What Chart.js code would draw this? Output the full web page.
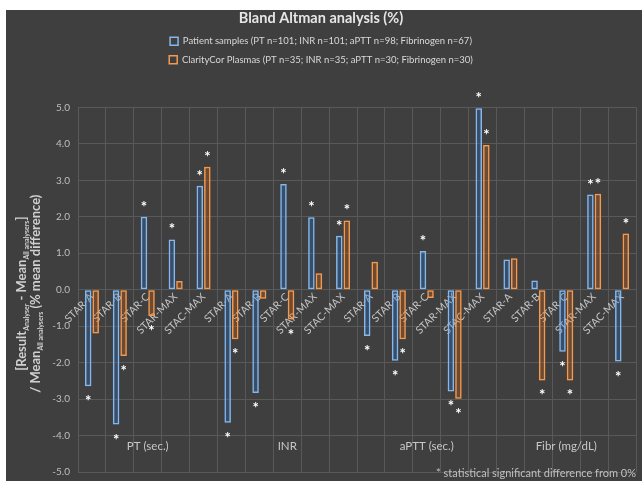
<!DOCTYPE html>
<html>
<head>
<meta charset="utf-8">
<script src="https://cdn.jsdelivr.net/npm/chart.js@4/dist/chart.umd.min.js"></script>
<style>
  html, body { margin: 0; padding: 0; background: #ffffff; }
  #wrap { position: absolute; left: 6px; top: 10px; width: 636px; height: 471px; background: #3f3f3f; }
</style>
</head>
<body>
<div id="wrap"><canvas id="baChart"></canvas></div>
<script>
// bland altman bars
const analysers = ['STAR-A', 'STAR-B', 'STAR-C', 'STAR-MAX', 'STAC-MAX'];
const groups = ['PT (sec.)', 'INR', 'aPTT (sec.)', 'Fibr (mg/dL)'];
const categories = groups.flatMap(() => analysers);
const yTicks = [-5, -4, -3, -2, -1, 0, 1, 2, 3, 4, 5];

const patientLabel = 'Patient samples (PT n=101; INR n=101; aPTT n=98; Fibrinogen n=67)';
const plasmaLabel = 'ClarityCor Plasmas (PT n=35; INR n=35; aPTT n=30; Fibrinogen n=30)';
const patientValues = [-2.65, -3.70, 2.00, 1.38, 2.85, -3.65, -2.83, 2.90, 1.99, 1.48, -1.27, -1.95, 1.06, -2.79, 4.98, 0.83, 0.25, -1.70, 2.61, -1.97];
const plasmaValues = [-1.20, -1.82, -0.72, 0.24, 3.37, -1.36, -0.25, -0.82, 0.45, 1.90, 0.77, -1.36, -0.23, -2.99, 3.97, 0.86, -2.49, -2.49, 2.63, 1.54];
// 1 = statistical significant difference from 0%
const patientSig = [1, 1, 1, 1, 1, 1, 1, 1, 1, 1, 1, 1, 1, 1, 1, 0, 0, 1, 1, 1];
const plasmaSig = [0, 1, 1, 0, 1, 1, 0, 1, 0, 1, 0, 1, 0, 1, 1, 0, 1, 1, 1, 1];

const FONT = 'Lato, "Open Sans", sans-serif';
const glow = ['#2a7ee0', '#f07012'];

const glowPlugin = {
    id: 'glow',
    beforeDatasetDraw(chart, args) {
        const ctx = chart.ctx;
        ctx.save();
        ctx.shadowColor = glow[args.index];
        ctx.shadowBlur = 7;
    },
    afterDatasetDraw(chart) {
        chart.ctx.restore();
    }
};

const extrasPlugin = {
    id: 'extras',
    afterDatasetsDraw(chart) {
        const ctx = chart.ctx;
        const x = chart.scales.x, area = chart.chartArea;
        ctx.save();
        // asterisks
        const sigs = [patientSig, plasmaSig];
        ctx.fillStyle = '#ffffff';
        ctx.font = 'bold 15px ' + FONT;
        ctx.textAlign = 'center';
        ctx.textBaseline = 'alphabetic';
        [0, 1].forEach(d => {
            chart.getDatasetMeta(d).data.forEach((bar, i) => {
                if (!sigs[d][i]) return;
                const up = bar.y < bar.base;
                const cy = up ? bar.y - 14 : bar.y + 11;
                ctx.fillText('*', bar.x, cy + 9);
            });
        });
        // group labels
        ctx.fillStyle = '#c8c8c8';
        ctx.font = '11.5px ' + FONT;
        ctx.textBaseline = 'middle';
        groups.forEach((g, k) => {
            const cx = (x.getPixelForValue(k * 5) + x.getPixelForValue(k * 5 + 4)) / 2;
            ctx.fillText(g, cx, area.bottom - 26);
        });
        // footnote
        ctx.textAlign = 'right';
        ctx.fillStyle = '#c0c0c0';
        ctx.font = '11px ' + FONT;
        ctx.fillText('* statistical significant difference from 0%', area.right, area.bottom + 1);
        ctx.restore();
    },
    afterDraw(chart) {
        // y axis title with subscripts
        const ctx = chart.ctx, area = chart.chartArea;
        const lines = [
            [['[Result', 13], ['Analyser', 7], [' - Mean', 13], ['All analysers', 7], [']', 13]],
            [['/ Mean', 13], ['All analysers', 7], [' (% mean difference)', 13]]
        ];
        const xs = [15, 29];
        ctx.save();
        ctx.fillStyle = '#d0d0d0';
        ctx.textBaseline = 'alphabetic';
        ctx.textAlign = 'left';
        lines.forEach((parts, li) => {
            let total = 0;
            parts.forEach(([t, s]) => { ctx.font = 'bold ' + s + 'px ' + FONT; total += ctx.measureText(t).width; });
            ctx.save();
            ctx.translate(xs[li] + 5, (area.top + area.bottom) / 2 + 4);
            ctx.rotate(-Math.PI / 2);
            let pos = -total / 2;
            parts.forEach(([t, s]) => {
                ctx.font = 'bold ' + s + 'px ' + FONT;
                ctx.fillText(t, pos, s < 10 ? 3 : 0);
                pos += ctx.measureText(t).width;
            });
            ctx.restore();
        });
        ctx.restore();
    },
    beforeInit(chart) {
        const legend = chart.legend;
        if (!legend) return;
        const fit = legend.fit;
        legend.fit = function () { fit.call(this); this.height += 33; };
    }
};

new Chart(document.getElementById('baChart'), {
    type: 'bar',
    data: {
        labels: categories,
        datasets: [{
            label: patientLabel,
            data: patientValues,
            backgroundColor: 'rgba(63, 63, 63, 0.01)',
            borderColor: '#86b8ec',
            borderWidth: 1.5,
            borderSkipped: false,
            categoryPercentage: 0.54,
            barPercentage: 0.86
        }, {
            label: plasmaLabel,
            data: plasmaValues,
            backgroundColor: 'rgba(63, 63, 63, 0.01)',
            borderColor: '#f39a52',
            borderWidth: 1.5,
            borderSkipped: false,
            categoryPercentage: 0.54,
            barPercentage: 0.86
        }]
    },
    options: {
        responsive: true,
        maintainAspectRatio: false,
        animation: false,
        layout: { padding: { left: 0, right: 6, top: 0, bottom: 9 } },
        plugins: {
            title: {
                display: true,
                text: 'Bland Altman analysis (%)',
                color: '#e6e6e6',
                font: { family: FONT, size: 14.5, weight: 'bold' },
                padding: { top: 0, bottom: 0 }
            },
            legend: {
                display: true,
                position: 'top',
                labels: {
                    color: '#d9d9d9',
                    font: { family: FONT, size: 9.5 },
                    boxWidth: 8,
                    boxHeight: 8,
                    padding: 9
                }
            },
            tooltip: { enabled: false }
        },
        scales: {
            x: {
                type: 'category',
                position: { y: 0 },
                grid: { color: '#595959', drawTicks: false, offset: true },
                border: { display: false },
                ticks: {
                    color: '#c4c4c4',
                    font: { family: FONT, size: 10.5 },
                    maxRotation: 45,
                    minRotation: 45,
                    autoSkip: false,
                    padding: 1
                }
            },
            y: {
                min: yTicks[0],
                max: yTicks[yTicks.length - 1],
                afterFit: (s) => { s.width = 72; },
                afterBuildTicks: (s) => { s.ticks = yTicks.map(v => ({ value: v })); },
                grid: { color: '#595959', drawTicks: true, tickLength: 6, tickColor: 'rgba(0,0,0,0)' },
                border: { display: false },
                ticks: {
                    color: '#bfbfbf',
                    font: { family: FONT, size: 10 },
                    padding: 2,
                    callback: (v) => Number(v).toFixed(1)
                }
            }
        }
    },
    plugins: [glowPlugin, extrasPlugin]
});
</script>
</body>
</html>
